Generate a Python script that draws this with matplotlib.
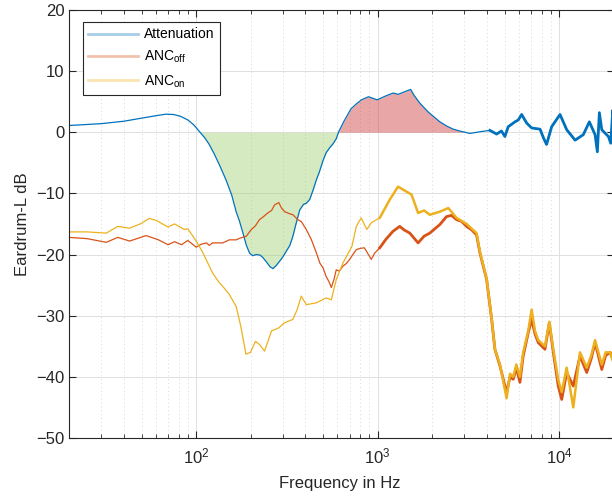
import numpy as np
import matplotlib
matplotlib.use("Agg")
import matplotlib.pyplot as plt
from matplotlib.lines import Line2D
from matplotlib.ticker import LogLocator, NullFormatter

plt.rcParams['font.family'] = ['Liberation Sans', 'DejaVu Sans']
plt.rcParams['mathtext.fontset'] = 'custom'
plt.rcParams['mathtext.rm'] = 'Liberation Sans'
plt.rcParams['mathtext.it'] = 'Liberation Sans:italic'

# Attenuation (difference ANC on - ANC off), dB
att_freq = [20, 30, 40, 50, 60, 68, 75, 82, 90, 97, 105, 112, 118, 126, 135, 146, 157, 166, 173,
            181, 189, 197, 205, 214, 225, 233, 245, 255, 265, 276, 288, 300, 313, 328, 341, 356,
            372, 390, 405, 422, 440, 459, 477, 500, 521, 545, 567, 590, 610, 652, 711, 760, 814,
            890, 950, 994, 1100, 1213, 1300, 1400, 1518, 1580, 1700, 1897, 2198, 2400, 2602, 2830,
            3215, 3700, 4146, 4516, 4800, 5016, 5232, 5463, 5699, 5944, 6203, 6610, 7040, 7830,
            8200, 8510, 9075, 10090, 10990, 12220, 13560, 14640, 15740, 16200, 16620, 17140,
            18640, 19200, 19700, 20000]
att_db = [1.1, 1.4, 1.8, 2.3, 2.7, 2.95, 2.9, 2.6, 2.0, 1.2, 0.0, -1.0, -2.0, -3.6, -5.5, -7.8,
          -10.3, -13.0, -14.5, -16.5, -18.5, -19.8, -20.2, -20.0, -20.1, -20.5, -21.3, -22.0,
          -22.3, -21.8, -21.1, -20.4, -19.5, -18.5, -17.0, -14.8, -12.7, -11.8, -11.6, -11.0,
          -9.5, -7.8, -6.5, -4.6, -3.3, -2.5, -1.9, -1.1, 0.1, 1.8, 3.8, 4.6, 5.3, 5.8, 5.5, 5.3,
          5.9, 6.4, 6.2, 6.6, 7.0, 6.1, 4.8, 3.3, 1.7, 1.0, 0.5, 0.2, -0.2, 0.1, 0.3, -0.3, 0.2,
          -0.7, 0.9, 1.3, 1.7, 2.0, 2.9, 1.5, 0.7, 0.5, -1.0, -2.0, 0.9, 2.9, 0.4, -1.3, -0.4, 1.7,
          -0.4, -3.2, 3.2, 0.4, -0.7, -1.8, 3.6, 1.0]

# Eardrum level, ANC off
off_freq = [20, 25, 32, 37, 43, 53, 62, 70, 76, 83, 90, 100, 107, 114, 118, 123, 134, 140, 152,
            166, 175, 189, 200, 212, 223, 235, 248, 260, 270, 285, 295, 307, 325, 341, 363, 379,
            404, 430, 459, 480, 500, 520, 540, 555, 575, 591, 615, 643, 670, 700, 730, 762, 800,
            844, 880, 922, 960, 1026, 1110, 1214, 1321, 1400, 1502, 1668, 1800, 1935, 2198, 2392,
            2550, 2717, 2900, 3085, 3300, 3501, 3652, 3979, 4240, 4419, 4710, 5126, 5350, 5575,
            5800, 6068, 6325, 6743, 7040, 7350, 7657, 8337, 8809, 9267, 9868, 10310, 10980,
            11940, 13000, 14160, 15000, 15740, 17140, 18000, 19040, 20000]
off_db = [-17.2, -17.4, -18.0, -17.2, -17.8, -16.9, -17.6, -18.4, -17.9, -18.4, -17.7, -18.8,
          -18.3, -18.1, -18.5, -18.1, -18.1, -18.1, -17.6, -17.6, -17.3, -17.0, -16.0, -15.3,
          -14.3, -13.8, -13.2, -12.8, -11.9, -11.5, -12.4, -13.0, -13.3, -13.5, -14.3, -14.6,
          -15.9, -17.5, -19.7, -21.4, -22.2, -23.6, -24.5, -25.4, -24.0, -22.5, -22.7, -21.9,
          -21.5, -20.8, -20.0, -19.2, -19.0, -18.9, -19.8, -20.8, -19.8, -18.9, -17.5, -16.2,
          -15.4, -16.0, -16.5, -18.1, -17.0, -16.5, -15.1, -13.8, -13.6, -14.3, -14.6, -15.4,
          -16.0, -16.8, -19.7, -24.1, -30.6, -35.5, -38.2, -42.6, -40.0, -40.4, -38.5, -40.9,
          -36.6, -32.8, -30.6, -33.0, -34.4, -35.5, -31.2, -36.0, -41.5, -43.7, -39.3, -41.5,
          -36.6, -39.3, -37.0, -34.4, -38.8, -36.5, -36.0, -37.5]

# Eardrum level, ANC on
on_freq = [20, 25, 32, 37, 43, 50, 55, 60, 70, 76, 86, 90, 100, 108, 123, 134, 140, 152, 166,
           176, 188, 199, 212, 223, 238, 260, 285, 305, 341, 360, 379, 404, 459, 520, 555, 591,
           643, 720, 762, 810, 870, 922, 1026, 1166, 1294, 1380, 1535, 1668, 1800, 1935, 2198,
           2445, 2717, 3085, 3501, 3652, 3979, 4240, 4419, 4710, 5126, 5350, 5575, 5800, 6068,
           6325, 6743, 7040, 7350, 7657, 8337, 8809, 9267, 9868, 10310, 10980, 11940, 13000,
           14160, 15000, 15740, 17140, 18000, 19040, 20000]
on_db = [-16.3, -16.3, -16.5, -15.4, -15.7, -14.9, -14.1, -14.4, -15.5, -15.0, -15.9, -15.8,
         -17.8, -19.5, -23.0, -24.6, -25.2, -26.5, -28.5, -31.7, -36.3, -36.0, -34.2, -34.7,
         -35.8, -32.5, -32.0, -31.2, -30.6, -29.0, -26.8, -28.2, -27.9, -27.1, -27.4, -24.1,
         -21.4, -18.7, -15.4, -14.0, -15.9, -14.8, -14.0, -11.0, -8.9, -9.4, -10.2, -13.2,
         -12.8, -13.5, -13.0, -12.4, -14.0, -15.0, -16.5, -19.5, -24.0, -30.5, -35.5, -38.0,
         -43.5, -39.5, -40.0, -38.0, -40.0, -36.0, -32.5, -29.0, -32.5, -34.0, -35.0, -31.0,
         -35.5, -40.5, -42.5, -38.5, -45.0, -36.0, -38.5, -36.5, -34.0, -38.0, -36.0, -36.0, -38.0]

c_att = '#0072BD'
c_off = '#D95319'
c_on = '#EDB120'

fig = plt.figure(figsize=(6.12, 4.96), dpi=100)
ax = fig.add_axes([0.1132, 0.117, 0.89, 0.863])

att_f = np.array(att_freq)
att_v = np.array(att_db)
off_f = np.array(off_freq)
off_v = np.array(off_db)
on_f = np.array(on_freq)
on_v = np.array(on_db)

ax.plot(att_f, att_v, color=c_att, lw=0.9)
ax.plot(off_f, off_v, color=c_off, lw=0.9)
ax.plot(on_f, on_v, color=c_on, lw=0.9)

# the measured traces are very dense up high, drawn thicker there
hi = att_f >= 4100
ax.plot(att_f[hi], att_v[hi], color=c_att, lw=2.0)
hi = off_f >= 1000
ax.plot(off_f[hi], off_v[hi], color=c_off, lw=2.0)
hi = on_f >= 1000
ax.plot(on_f[hi], on_v[hi], color=c_on, lw=1.8)

# shaded areas: attenuation (green) and amplification (red)
ax.fill_between(att_f, att_v, 0, where=(att_v <= 0) & (att_f > 100) & (att_f < 700),
                interpolate=True, color='#96cc62', alpha=0.4, lw=0)
ax.fill_between(att_f, att_v, 0, where=(att_v >= 0) & (att_f > 500) & (att_f < 3100),
                interpolate=True, color='#d03a3c', alpha=0.45, lw=0)

ax.set_xscale('log')
ax.set_xlim(20, 20000)
ax.set_ylim(-50, 20)
ax.set_yticks(np.arange(-50, 21, 10))
ax.xaxis.set_major_locator(LogLocator(base=10, numticks=10))
ax.xaxis.set_minor_locator(LogLocator(base=10, subs=np.arange(2, 10), numticks=20))
ax.xaxis.set_minor_formatter(NullFormatter())

ax.grid(which='major', color='#e0e0e0', lw=0.7, ls='-')
ax.grid(which='minor', axis='x', color='#d8d8d8', lw=0.7, ls=(0, (1, 3)))
ax.set_axisbelow(True)

ax.tick_params(which='both', direction='in', top=True, right=True, colors='#262626',
               labelsize=12)
ax.tick_params(which='major', length=5, width=0.8)
ax.tick_params(which='minor', length=3, width=0.6)
ax.tick_params(axis='x', which='major', pad=6)
for s in ax.spines.values():
    s.set_color('#262626')
    s.set_linewidth(0.8)

ax.set_xlabel('Frequency in Hz', fontsize=12, color='#262626')
ax.set_ylabel('Eardrum-L dB', fontsize=12, color='#262626')
ax.xaxis.set_label_coords(0.497, -0.088)
ax.yaxis.set_label_coords(-0.072, 0.5)

handles = [Line2D([], [], color=c_att, lw=2, alpha=0.35),
           Line2D([], [], color=c_off, lw=2, alpha=0.35),
           Line2D([], [], color=c_on, lw=2, alpha=0.35)]
labels = ['Attenuation', r'ANC$_{\mathrm{off}}$', r'ANC$_{\mathrm{on}}$']
leg = ax.legend(handles, labels, loc='upper left', bbox_to_anchor=(0.025, 0.972),
                borderaxespad=0, fontsize=10, handlelength=3.6, handletextpad=0.4,
                labelspacing=0.55, fancybox=False, framealpha=1, edgecolor='#262626',
                borderpad=0.4)
leg.get_frame().set_linewidth(0.8)

fig.savefig('out.png', dpi=100)
